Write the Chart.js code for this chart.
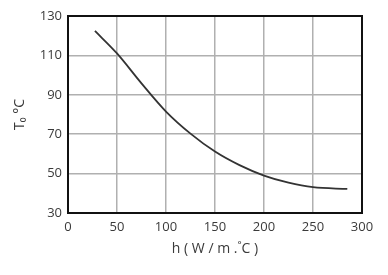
<!DOCTYPE html>
<html>
<head>
<meta charset="utf-8">
<script src="https://cdn.jsdelivr.net/npm/chart.js@4"></script>
<style>
  html, body { margin: 0; padding: 0; background: #fff; }
  #wrap { width: 388px; height: 275px; }
</style>
</head>
<body>
<div id="wrap"><canvas id="chart" width="388" height="275"></canvas></div>
<script>
// curve: h (W/m.°C) -> T0 (°C)
var h  = [27.5, 50, 75, 100, 125, 150, 175, 200, 225, 250, 285];
var t0 = [122.4, 111, 95.8, 81.5, 70.3, 61.2, 54.3, 49, 45.4, 43.1, 42.2];
var xTicks = [0, 50, 100, 150, 200, 250, 300];
var yTicks = [30, 50, 70, 90, 110, 130];
var xTitle = 'h ( W / m .\u02DAC )';
var yTitle = 'T\u2080 °C';

var pts = h.map(function (v, i) { return { x: v, y: t0[i] }; });

// black frame round the plot area
var frame = {
  id: 'frame',
  afterDatasetsDraw: function (chart) {
    var a = chart.chartArea, c = chart.ctx;
    c.save();
    c.strokeStyle = '#111';
    c.lineWidth = 2;
    c.strokeRect(a.left, a.top, a.right - a.left, a.bottom - a.top);
    c.restore();
  }
};

Chart.defaults.font.family = '"Open Sans", "DejaVu Sans", sans-serif';
Chart.defaults.color = '#3a3a3a';

new Chart(document.getElementById('chart'), {
  type: 'scatter',
  data: {
    datasets: [{
      data: pts,
      showLine: true,
      borderColor: '#333',
      borderWidth: 1.8,
      pointRadius: 0,
      cubicInterpolationMode: 'monotone'
    }]
  },
  options: {
    responsive: false,
    animation: false,
    layout: { padding: { top: 16, right: 26, left: 8, bottom: 14 } },
    plugins: { legend: { display: false }, tooltip: { enabled: false } },
    scales: {
      x: {
        type: 'linear', min: 0, max: 300,
        afterBuildTicks: function (s) { s.ticks = xTicks.map(function (v) { return { value: v }; }); },
        afterFit: function (s) { s.height = 48; },
        grid: { color: '#b0b0b0', lineWidth: 1.5, drawTicks: false },
        border: { display: false },
        ticks: { font: { size: 13 }, padding: 6, maxRotation: 0 },
        title: { display: true, text: xTitle, font: { size: 14 }, padding: { top: 4 } }
      },
      y: {
        min: 30, max: 130,
        afterBuildTicks: function (s) { s.ticks = yTicks.map(function (v) { return { value: v }; }); },
        afterFit: function (s) { s.width = 60; },
        grid: { color: '#b0b0b0', lineWidth: 1.5, drawTicks: false },
        border: { display: false },
        ticks: { font: { size: 13 }, padding: 6 },
        title: { display: true, text: yTitle, font: { size: 14 }, padding: { bottom: 6 } }
      }
    }
  },
  plugins: [frame]
});
</script>
</body>
</html>
